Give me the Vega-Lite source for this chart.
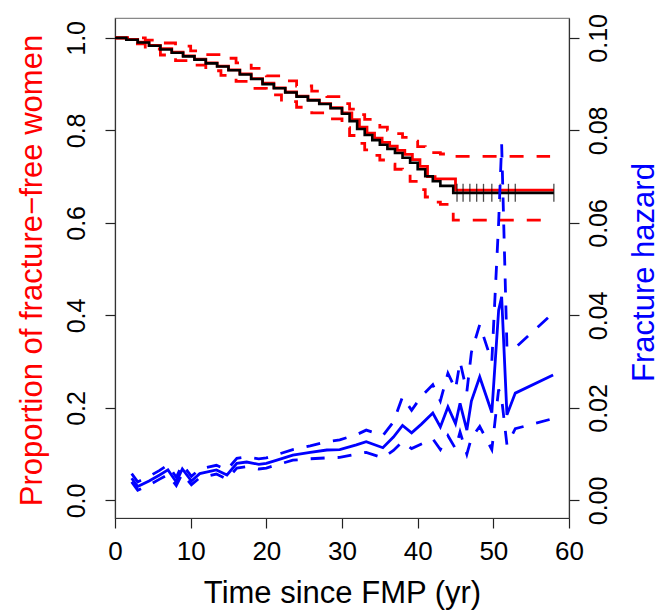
{
  "$schema": "https://vega.github.io/schema/vega-lite/v6.json",
  "width": 454,
  "height": 500,
  "autosize": "none",
  "padding": {"left": 115, "top": 18, "right": 90, "bottom": 95},
  "background": "white",
  "config": {
    "font": "Liberation Sans",
    "view": {"stroke": "#888888", "strokeWidth": 1.2},
    "axis": {
      "grid": false,
      "labelFont": "Liberation Sans",
      "titleFont": "Liberation Sans",
      "labelFontSize": 25,
      "titleFontSize": 31,
      "titleFontWeight": "normal",
      "labelColor": "#000000",
      "tickColor": "#222222",
      "domainColor": "#333333",
      "tickSize": 10,
      "tickWidth": 1.2,
      "domainWidth": 1.2,
      "labelOverlap": false,
      "labelFlush": false
    }
  },
  "datasets": {
    "km": [
      {"series": "black", "t": 0, "s": 1.0},
      {"series": "black", "t": 1.5, "s": 0.996},
      {"series": "black", "t": 3, "s": 0.99},
      {"series": "black", "t": 4.5, "s": 0.983},
      {"series": "black", "t": 6, "s": 0.975},
      {"series": "black", "t": 7.5, "s": 0.968},
      {"series": "black", "t": 9, "s": 0.96},
      {"series": "black", "t": 10.5, "s": 0.953},
      {"series": "black", "t": 12, "s": 0.945},
      {"series": "black", "t": 13.5, "s": 0.938},
      {"series": "black", "t": 15, "s": 0.93},
      {"series": "black", "t": 16.5, "s": 0.921},
      {"series": "black", "t": 18, "s": 0.911},
      {"series": "black", "t": 19.5, "s": 0.9},
      {"series": "black", "t": 21, "s": 0.891},
      {"series": "black", "t": 22.5, "s": 0.882},
      {"series": "black", "t": 24, "s": 0.873},
      {"series": "black", "t": 25.5, "s": 0.865},
      {"series": "black", "t": 27, "s": 0.857},
      {"series": "black", "t": 28.5, "s": 0.848},
      {"series": "black", "t": 30, "s": 0.836},
      {"series": "black", "t": 31, "s": 0.82},
      {"series": "black", "t": 32, "s": 0.803},
      {"series": "black", "t": 33, "s": 0.79},
      {"series": "black", "t": 34, "s": 0.779},
      {"series": "black", "t": 35, "s": 0.769},
      {"series": "black", "t": 36, "s": 0.76},
      {"series": "black", "t": 37, "s": 0.751},
      {"series": "black", "t": 38, "s": 0.741},
      {"series": "black", "t": 39, "s": 0.73},
      {"series": "black", "t": 40, "s": 0.716},
      {"series": "black", "t": 41, "s": 0.701},
      {"series": "black", "t": 42, "s": 0.69},
      {"series": "black", "t": 43, "s": 0.68},
      {"series": "black", "t": 44.7, "s": 0.665},
      {"series": "black", "t": 58, "s": 0.665},
      {"series": "red", "t": 0, "s": 1.0},
      {"series": "red", "t": 1.5, "s": 0.997},
      {"series": "red", "t": 3, "s": 0.991},
      {"series": "red", "t": 4.5, "s": 0.984},
      {"series": "red", "t": 6, "s": 0.977},
      {"series": "red", "t": 7.5, "s": 0.969},
      {"series": "red", "t": 9, "s": 0.961},
      {"series": "red", "t": 10.5, "s": 0.954},
      {"series": "red", "t": 12, "s": 0.946},
      {"series": "red", "t": 13.5, "s": 0.939},
      {"series": "red", "t": 15, "s": 0.931},
      {"series": "red", "t": 16.5, "s": 0.922},
      {"series": "red", "t": 18, "s": 0.912},
      {"series": "red", "t": 19.5, "s": 0.902},
      {"series": "red", "t": 21, "s": 0.892},
      {"series": "red", "t": 22.5, "s": 0.883},
      {"series": "red", "t": 24, "s": 0.874},
      {"series": "red", "t": 25.5, "s": 0.866},
      {"series": "red", "t": 27, "s": 0.858},
      {"series": "red", "t": 28.5, "s": 0.849},
      {"series": "red", "t": 30, "s": 0.838},
      {"series": "red", "t": 31.3, "s": 0.823},
      {"series": "red", "t": 32.3, "s": 0.807},
      {"series": "red", "t": 33.3, "s": 0.794},
      {"series": "red", "t": 34.3, "s": 0.783},
      {"series": "red", "t": 35.3, "s": 0.774},
      {"series": "red", "t": 36.3, "s": 0.766},
      {"series": "red", "t": 37.3, "s": 0.757},
      {"series": "red", "t": 38.3, "s": 0.748},
      {"series": "red", "t": 39.3, "s": 0.737},
      {"series": "red", "t": 40.3, "s": 0.722},
      {"series": "red", "t": 41.3, "s": 0.7},
      {"series": "red", "t": 42.3, "s": 0.695},
      {"series": "red", "t": 45.0, "s": 0.671},
      {"series": "red", "t": 58, "s": 0.671},
      {"series": "upper", "t": 0, "s": 1.0},
      {"series": "upper", "t": 2, "s": 1.0},
      {"series": "upper", "t": 4, "s": 0.995},
      {"series": "upper", "t": 6, "s": 0.989},
      {"series": "upper", "t": 8, "s": 0.982},
      {"series": "upper", "t": 10, "s": 0.972},
      {"series": "upper", "t": 12, "s": 0.964},
      {"series": "upper", "t": 14, "s": 0.956},
      {"series": "upper", "t": 16, "s": 0.946},
      {"series": "upper", "t": 18, "s": 0.934},
      {"series": "upper", "t": 20, "s": 0.918},
      {"series": "upper", "t": 22, "s": 0.907},
      {"series": "upper", "t": 24, "s": 0.896},
      {"series": "upper", "t": 26, "s": 0.885},
      {"series": "upper", "t": 28, "s": 0.873},
      {"series": "upper", "t": 30, "s": 0.858},
      {"series": "upper", "t": 31, "s": 0.846},
      {"series": "upper", "t": 32, "s": 0.834},
      {"series": "upper", "t": 33, "s": 0.824},
      {"series": "upper", "t": 34, "s": 0.815},
      {"series": "upper", "t": 35, "s": 0.807},
      {"series": "upper", "t": 36, "s": 0.8},
      {"series": "upper", "t": 37, "s": 0.793},
      {"series": "upper", "t": 38, "s": 0.785},
      {"series": "upper", "t": 39, "s": 0.777},
      {"series": "upper", "t": 40, "s": 0.765},
      {"series": "upper", "t": 41, "s": 0.752},
      {"series": "upper", "t": 43, "s": 0.749},
      {"series": "upper", "t": 44.7, "s": 0.744},
      {"series": "upper", "t": 57.5, "s": 0.744},
      {"series": "lower", "t": 0, "s": 1.0},
      {"series": "lower", "t": 2, "s": 0.987},
      {"series": "lower", "t": 4, "s": 0.976},
      {"series": "lower", "t": 6, "s": 0.963},
      {"series": "lower", "t": 8, "s": 0.951},
      {"series": "lower", "t": 10, "s": 0.941},
      {"series": "lower", "t": 12, "s": 0.929},
      {"series": "lower", "t": 14, "s": 0.919},
      {"series": "lower", "t": 16, "s": 0.906},
      {"series": "lower", "t": 18, "s": 0.891},
      {"series": "lower", "t": 20, "s": 0.877},
      {"series": "lower", "t": 22, "s": 0.862},
      {"series": "lower", "t": 24, "s": 0.85},
      {"series": "lower", "t": 26, "s": 0.838},
      {"series": "lower", "t": 28, "s": 0.825},
      {"series": "lower", "t": 30, "s": 0.806},
      {"series": "lower", "t": 31, "s": 0.789},
      {"series": "lower", "t": 32, "s": 0.772},
      {"series": "lower", "t": 33, "s": 0.758},
      {"series": "lower", "t": 34, "s": 0.746},
      {"series": "lower", "t": 35, "s": 0.736},
      {"series": "lower", "t": 36, "s": 0.727},
      {"series": "lower", "t": 37, "s": 0.716},
      {"series": "lower", "t": 38, "s": 0.705},
      {"series": "lower", "t": 39, "s": 0.69},
      {"series": "lower", "t": 40, "s": 0.672},
      {"series": "lower", "t": 41, "s": 0.656},
      {"series": "lower", "t": 42, "s": 0.645},
      {"series": "lower", "t": 43, "s": 0.64},
      {"series": "lower", "t": 44.7, "s": 0.606},
      {"series": "lower", "t": 57.5, "s": 0.606}
    ],
    "censor": [
      {"t": 45.2, "s": 0.665},
      {"t": 46.0, "s": 0.665},
      {"t": 46.9, "s": 0.665},
      {"t": 47.8, "s": 0.665},
      {"t": 48.7, "s": 0.665},
      {"t": 49.8, "s": 0.665},
      {"t": 50.9, "s": 0.665},
      {"t": 52.0, "s": 0.665},
      {"t": 52.9, "s": 0.665},
      {"t": 58.0, "s": 0.665}
    ],
    "hazard": [
      {"series": "est", "t": 2.2, "h": 0.0048},
      {"series": "est", "t": 3.0, "h": 0.003},
      {"series": "est", "t": 4.5, "h": 0.0042},
      {"series": "est", "t": 5.9, "h": 0.0055},
      {"series": "est", "t": 7.0, "h": 0.0066},
      {"series": "est", "t": 8.1, "h": 0.004},
      {"series": "est", "t": 8.9, "h": 0.0068},
      {"series": "est", "t": 10.1, "h": 0.0042},
      {"series": "est", "t": 11.2, "h": 0.0058},
      {"series": "est", "t": 13.4, "h": 0.0066},
      {"series": "est", "t": 14.8, "h": 0.0055},
      {"series": "est", "t": 16.1, "h": 0.008},
      {"series": "est", "t": 17.4, "h": 0.0083},
      {"series": "est", "t": 19.0, "h": 0.0078},
      {"series": "est", "t": 20.0, "h": 0.008},
      {"series": "est", "t": 21.4, "h": 0.0087},
      {"series": "est", "t": 23.5, "h": 0.0098},
      {"series": "est", "t": 25.8, "h": 0.0104},
      {"series": "est", "t": 28.0, "h": 0.0109},
      {"series": "est", "t": 29.7, "h": 0.011},
      {"series": "est", "t": 31.9, "h": 0.012},
      {"series": "est", "t": 33.2, "h": 0.0127},
      {"series": "est", "t": 35.4, "h": 0.0114},
      {"series": "est", "t": 36.8, "h": 0.0137},
      {"series": "est", "t": 38.0, "h": 0.0162},
      {"series": "est", "t": 39.2, "h": 0.0146},
      {"series": "est", "t": 40.5, "h": 0.0165},
      {"series": "est", "t": 42.0, "h": 0.0189},
      {"series": "est", "t": 43.0, "h": 0.0159},
      {"series": "est", "t": 44.0, "h": 0.0202},
      {"series": "est", "t": 45.0, "h": 0.0166},
      {"series": "est", "t": 45.6, "h": 0.021},
      {"series": "est", "t": 46.5, "h": 0.0152},
      {"series": "est", "t": 47.1, "h": 0.0215},
      {"series": "est", "t": 48.2, "h": 0.0267},
      {"series": "est", "t": 49.8, "h": 0.019},
      {"series": "est", "t": 50.7, "h": 0.0411},
      {"series": "est", "t": 51.1, "h": 0.044},
      {"series": "est", "t": 51.8, "h": 0.0185},
      {"series": "est", "t": 52.9, "h": 0.0232},
      {"series": "est", "t": 57.9, "h": 0.0271},
      {"series": "upper", "t": 2.2, "h": 0.0058},
      {"series": "upper", "t": 3.0, "h": 0.004},
      {"series": "upper", "t": 4.5, "h": 0.0052},
      {"series": "upper", "t": 5.9, "h": 0.0065},
      {"series": "upper", "t": 7.0, "h": 0.0077},
      {"series": "upper", "t": 8.1, "h": 0.005},
      {"series": "upper", "t": 8.9, "h": 0.0078},
      {"series": "upper", "t": 10.1, "h": 0.0052},
      {"series": "upper", "t": 11.2, "h": 0.0068},
      {"series": "upper", "t": 13.4, "h": 0.0076},
      {"series": "upper", "t": 14.8, "h": 0.0066},
      {"series": "upper", "t": 16.1, "h": 0.0091},
      {"series": "upper", "t": 17.4, "h": 0.0094},
      {"series": "upper", "t": 19.0, "h": 0.009},
      {"series": "upper", "t": 20.0, "h": 0.0092},
      {"series": "upper", "t": 21.4, "h": 0.0099},
      {"series": "upper", "t": 23.5, "h": 0.011},
      {"series": "upper", "t": 25.8, "h": 0.0118},
      {"series": "upper", "t": 28.0, "h": 0.0127},
      {"series": "upper", "t": 29.7, "h": 0.0131},
      {"series": "upper", "t": 31.9, "h": 0.0142},
      {"series": "upper", "t": 33.2, "h": 0.0152},
      {"series": "upper", "t": 35.4, "h": 0.014},
      {"series": "upper", "t": 36.8, "h": 0.017},
      {"series": "upper", "t": 38.0, "h": 0.0224},
      {"series": "upper", "t": 39.2, "h": 0.0195},
      {"series": "upper", "t": 40.5, "h": 0.0225},
      {"series": "upper", "t": 42.0, "h": 0.025},
      {"series": "upper", "t": 43.0, "h": 0.0215},
      {"series": "upper", "t": 44.0, "h": 0.0275},
      {"series": "upper", "t": 45.0, "h": 0.024},
      {"series": "upper", "t": 45.6, "h": 0.03},
      {"series": "upper", "t": 46.5, "h": 0.0235},
      {"series": "upper", "t": 47.1, "h": 0.032},
      {"series": "upper", "t": 48.2, "h": 0.038},
      {"series": "upper", "t": 49.8, "h": 0.03},
      {"series": "upper", "t": 50.7, "h": 0.06},
      {"series": "upper", "t": 51.1, "h": 0.077},
      {"series": "upper", "t": 51.8, "h": 0.033},
      {"series": "upper", "t": 52.9, "h": 0.033},
      {"series": "upper", "t": 57.9, "h": 0.0405},
      {"series": "lower", "t": 2.2, "h": 0.004},
      {"series": "lower", "t": 3.0, "h": 0.0022},
      {"series": "lower", "t": 4.5, "h": 0.0033},
      {"series": "lower", "t": 5.9, "h": 0.0046},
      {"series": "lower", "t": 7.0, "h": 0.0056},
      {"series": "lower", "t": 8.1, "h": 0.0032},
      {"series": "lower", "t": 8.9, "h": 0.0058},
      {"series": "lower", "t": 10.1, "h": 0.0034},
      {"series": "lower", "t": 11.2, "h": 0.0049},
      {"series": "lower", "t": 13.4, "h": 0.0057},
      {"series": "lower", "t": 14.8, "h": 0.0046},
      {"series": "lower", "t": 16.1, "h": 0.007},
      {"series": "lower", "t": 17.4, "h": 0.0073},
      {"series": "lower", "t": 19.0, "h": 0.0068},
      {"series": "lower", "t": 20.0, "h": 0.007},
      {"series": "lower", "t": 21.4, "h": 0.0077},
      {"series": "lower", "t": 23.5, "h": 0.0087},
      {"series": "lower", "t": 25.8, "h": 0.009},
      {"series": "lower", "t": 28.0, "h": 0.0092},
      {"series": "lower", "t": 29.7, "h": 0.0093},
      {"series": "lower", "t": 31.9, "h": 0.01},
      {"series": "lower", "t": 33.2, "h": 0.0104},
      {"series": "lower", "t": 35.4, "h": 0.0092},
      {"series": "lower", "t": 36.8, "h": 0.0108},
      {"series": "lower", "t": 38.0, "h": 0.0127},
      {"series": "lower", "t": 39.2, "h": 0.0112},
      {"series": "lower", "t": 40.5, "h": 0.0122},
      {"series": "lower", "t": 42.0, "h": 0.0133},
      {"series": "lower", "t": 43.0, "h": 0.011},
      {"series": "lower", "t": 44.0, "h": 0.014},
      {"series": "lower", "t": 45.0, "h": 0.0112},
      {"series": "lower", "t": 45.6, "h": 0.0148},
      {"series": "lower", "t": 46.5, "h": 0.01},
      {"series": "lower", "t": 47.1, "h": 0.0135},
      {"series": "lower", "t": 48.2, "h": 0.016},
      {"series": "lower", "t": 49.8, "h": 0.011},
      {"series": "lower", "t": 50.7, "h": 0.024},
      {"series": "lower", "t": 51.1, "h": 0.022},
      {"series": "lower", "t": 51.8, "h": 0.012},
      {"series": "lower", "t": 52.9, "h": 0.0155},
      {"series": "lower", "t": 57.9, "h": 0.0177}
    ]
  },
  "layer": [
    {
      "encoding": {
        "x": {
          "field": "t", "type": "quantitative",
          "scale": {"domain": [0, 60], "nice": false, "zero": false},
          "axis": {
            "values": [0, 10, 20, 30, 40, 50, 60],
            "title": "Time since FMP (yr)",
            "titleColor": "#000000",
            "labelFontSize": 26,
            "labelPadding": 10,
            "titleBaseline": "alphabetic",
            "titleY": 84
          }
        },
        "y": {
          "field": "s", "type": "quantitative",
          "scale": {"domain": [-0.038, 1.043], "nice": false, "zero": false},
          "axis": {
            "orient": "left",
            "values": [0, 0.2, 0.4, 0.6, 0.8, 1.0],
            "format": ".1f",
            "labelAngle": -90,
            "labelAlign": "center",
            "labelBaseline": "bottom",
            "labelPadding": 16,
            "title": "Proportion of fracture\u2212free women",
            "titleColor": "#ff0000",
            "titleAngle": -90,
            "titleBaseline": "alphabetic",
            "titleAlign": "center",
            "titleX": -74,
            "titleY": 252
          }
        }
      },
      "layer": [
        {
          "data": {"name": "km"},
          "transform": [{"filter": "datum.series === 'upper' || datum.series === 'lower'"}],
          "mark": {"type": "line", "interpolate": "step-after", "color": "#ff0000", "strokeWidth": 2.8, "strokeDash": [14, 13]},
          "encoding": {"detail": {"field": "series"}}
        },
        {
          "data": {"name": "km"},
          "transform": [{"filter": "datum.series === 'red'"}],
          "mark": {"type": "line", "interpolate": "step-after", "color": "#ff0000", "strokeWidth": 2.8}
        },
        {
          "data": {"name": "km"},
          "transform": [{"filter": "datum.series === 'black'"}],
          "mark": {"type": "line", "interpolate": "step-after", "color": "#000000", "strokeWidth": 2.6}
        },
        {
          "data": {"name": "censor"},
          "mark": {"type": "tick", "orient": "vertical", "color": "#000000", "size": 18, "thickness": 1.3}
        }
      ]
    },
    {
      "data": {"name": "hazard"},
      "encoding": {
        "x": {
          "field": "t", "type": "quantitative",
          "scale": {"domain": [0, 60], "nice": false, "zero": false}
        },
        "y": {
          "field": "h", "type": "quantitative",
          "scale": {"domain": [-0.0038, 0.1043], "nice": false, "zero": false},
          "axis": {
            "orient": "right",
            "values": [0, 0.02, 0.04, 0.06, 0.08, 0.1],
            "format": ".2f",
            "labelAngle": -90,
            "labelAlign": "center",
            "labelBaseline": "top",
            "labelPadding": 7,
            "title": "Fracture hazard",
            "titleColor": "#0000ff",
            "titleAngle": -90,
            "titleBaseline": "alphabetic",
            "titleAlign": "center",
            "titleX": 84,
            "titleY": 254
          }
        }
      },
      "layer": [
        {
          "transform": [{"filter": "datum.series !== 'est'"}],
          "mark": {"type": "line", "color": "#0000ff", "strokeWidth": 2.8, "strokeDash": [14, 13]},
          "encoding": {"detail": {"field": "series"}}
        },
        {
          "transform": [{"filter": "datum.series === 'est'"}],
          "mark": {"type": "line", "color": "#0000ff", "strokeWidth": 2.8}
        }
      ]
    }
  ],
  "resolve": {"scale": {"y": "independent"}}
}
